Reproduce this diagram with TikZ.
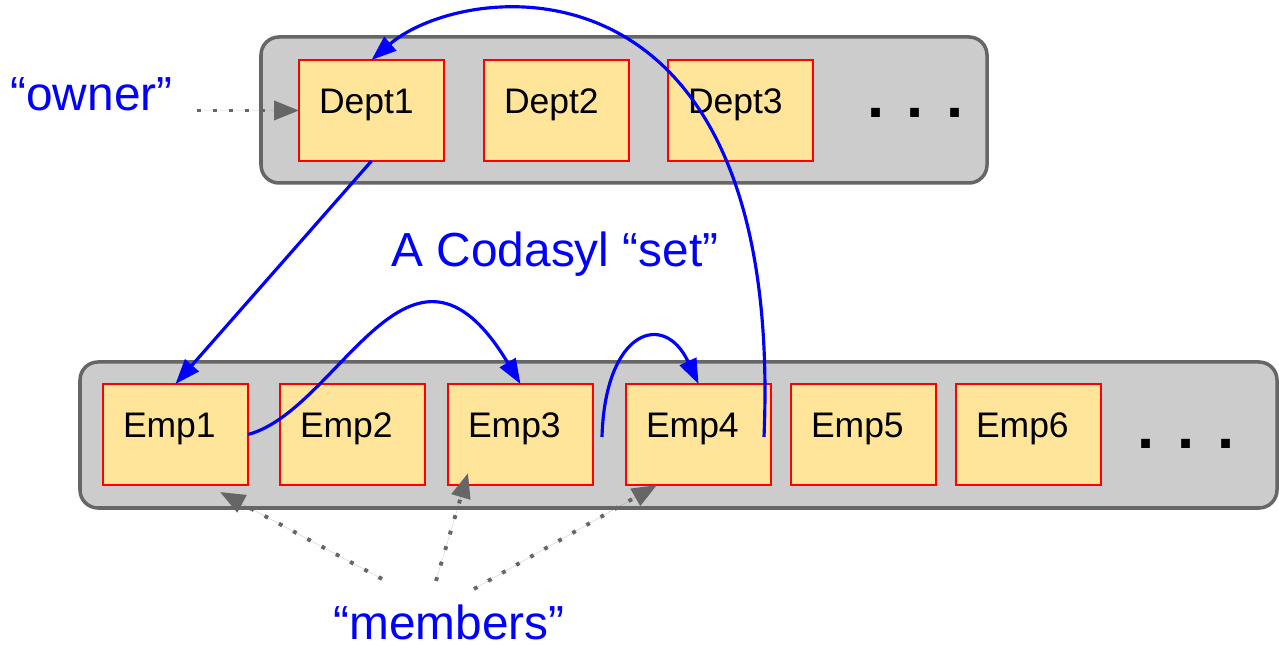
\documentclass[tikz,border=0pt]{standalone}
\usepackage{fontspec}
\setmainfont{Liberation Sans}
\usetikzlibrary{positioning,arrows.meta}

\definecolor{trayfill}{HTML}{CCCCCC}
\definecolor{trayline}{HTML}{666666}
\definecolor{recfill}{HTML}{FFE599}
\definecolor{setblue}{HTML}{0000FF}

\begin{document}
\begin{tikzpicture}[
  tray/.style={draw=trayline, fill=trayfill, line width=1pt, rounded corners=1.8mm, minimum height=14.6mm},
  rec/.style={draw=red, fill=recfill, line width=0.5pt, outer sep=0pt, inner xsep=2mm, text width=10.5mm, align=left,
    minimum height=10.1mm, text height=2.6mm, text depth=1.9mm, font=\fontsize{10.1}{12}\selectfont},
  more/.style={font=\fontsize{17.5}{20}\selectfont\bfseries},
  lbl/.style={text=setblue, font=\fontsize{13.6}{16}\selectfont},
  setarr/.style={-{Triangle[length=2.5mm,width=1.8mm]}, draw=setblue, line width=0.9pt},
  memarr/.style={-{Triangle[length=2.5mm,width=1.9mm]}, draw=trayline, fill=trayline, line width=1.1pt, dash pattern=on 1.1pt off 3.5pt}
]
\useasboundingbox (0,0) rectangle (12.79,-6.45);

% owner records
\node[tray, minimum width=72.6mm] (depttray) at (6.24,-1.10) {};
\node[rec] (dept1) at (3.715,-1.105) {Dept1};
\node[rec, right=4mm of dept1] (dept2) {Dept2};
\node[rec, right=3.9mm of dept2] (dept3) {Dept3};
\node[more] (deptmore) at (9.155,-1.13) {. . .};

% member records
\node[tray, minimum width=119.7mm] (emptray) at (6.785,-4.35) {};
\node[rec] (emp1) at (1.755,-4.345) {Emp1};
\node[rec, right=3.2mm of emp1] (emp2) {Emp2};
\node[rec, right=2.3mm of emp2] (emp3) {Emp3};
\node[rec, right=3.3mm of emp3] (emp4) {Emp4};
\node[rec, right=2mm of emp4] (emp5) {Emp5};
\node[rec, right=2mm of emp5] (emp6) {Emp6};
\node[more] (empmore) at (11.86,-4.44) {. . .};

% labels
\node[lbl, anchor=base] (owner) at (0.915,-1.11) {“owner”};
\node[lbl, anchor=base] (setname) at (5.55,-2.67) {A Codasyl “set”};
\node[lbl, anchor=base] (members) at (4.49,-6.40) {“members”};

% the set chain
\draw[setarr] (dept1.south) -- (emp1.north);
\draw[setarr] (emp1.east) .. controls (3.40,-4.10) and (4.10,-2.00) .. (emp3.north);
\draw[setarr] ([xshift=0.9mm,yshift=-0.25mm]emp3.east) .. controls (6.05,-3.30) and (6.64,-3.10) .. (emp4.north);
\draw[setarr] ([xshift=-0.7mm,yshift=-0.25mm]emp4.east) .. controls (7.85,0.60) and (4.64,0.20) .. (dept1.north);

% pointers from the labels
\coordinate (ownerfoot) at (owner.east |- dept1.west);
\draw[memarr] ([xshift=1.2mm]ownerfoot) -- (dept1.west);
\draw[memarr] ([xshift=-6.7mm,yshift=1.4mm]members.north) -- ([xshift=4.45mm,yshift=-0.7mm]emp1.south);
\draw[memarr] ([xshift=-1.3mm,yshift=1.2mm]members.north) -- ([xshift=2mm,yshift=1.2mm]emp3.south west);
\draw[memarr] ([xshift=2.5mm,yshift=0.4mm]members.north) -- ([xshift=3.1mm]emp4.south west);
\end{tikzpicture}
\end{document}
